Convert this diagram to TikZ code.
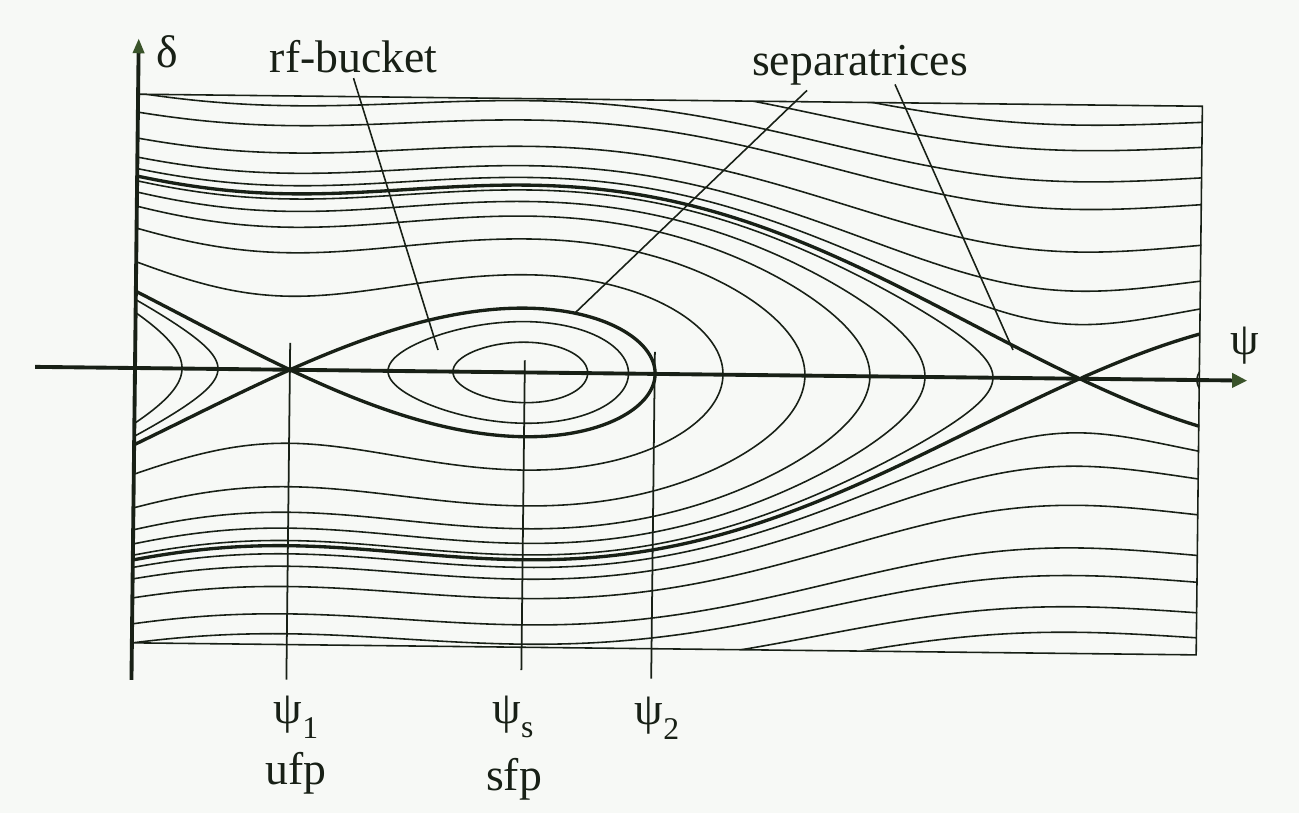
\documentclass[tikz,border=0pt]{standalone}
\usepackage{fontspec}
\setmainfont{Liberation Serif}
\usetikzlibrary{arrows.meta}
\definecolor{paper}{RGB}{247,249,246}
\definecolor{ink}{RGB}{24,32,22}
\definecolor{olive}{RGB}{58,84,42}
\newcommand{\lowidx}[1]{\raisebox{-0.32em}{\fontsize{9}{9}\selectfont #1}}

\begin{document}
\begin{tikzpicture}[font=\fontsize{13}{15}\selectfont,
    declare function={Vpot(\w)=cos(deg(0.636+\w))+0.594*\w;}]
	\tikzset{orbit/.style={draw=ink, line width=0.45pt},
		sepx/.style={draw=ink, line width=0.95pt},
		axisline/.style={draw=ink, line width=1.1pt},
		tickline/.style={draw=ink, line width=0.5pt},
		leader/.style={draw=ink, line width=0.45pt},
		lbl/.style={text=ink, inner sep=0.05cm}}
	\fill[paper] (0,0) rectangle (12.99,8.13);
	\useasboundingbox (0,0) rectangle (12.99,8.13);
	% frame, axes and phase space (the scan is turned a little)
	\begin{scope}[shift={(1.35,4.45)}, rotate=-0.65, x=0.01cm, y=0.01cm]
		\draw[orbit] (0,-275) rectangle (1065,274);
		\coordinate (hstart) at (-100,0);
		\coordinate (htip) at (1113,0);
		\coordinate (vstart) at (0,-312);
		\coordinate (vtip) at (0,330);
		\draw[axisline, -{Triangle[length=0.15cm, width=0.14cm, color=olive]}] (hstart) -- (htip);
		\draw[axisline, -{Triangle[length=0.15cm, width=0.11cm, color=olive]}] (vstart) -- (vtip);
		% marks at ufp, sfp and psi2
		\draw[tickline] (155,27) -- (155,-310);
		\draw[tickline] (390,12) -- (390,-298);
		\draw[tickline] (520,22) -- (520,-305);
		\begin{scope}[xshift=1.55cm, x=1.257cm, y=0.644cm]
			\clip (-1.2331,-4.2547) rectangle (7.2395,4.2547);
			% open orbits
			\foreach \h in {4.89,5.46,6.47,7.99,9.21,10.81,12.29} {
				\draw[orbit] plot[domain=-1.2331:7.2395, samples=160, smooth] (\x,{sqrt(2*(\h-Vpot(\x)))});
				\draw[orbit] plot[domain=-1.2331:7.2395, samples=160, smooth] (\x,{-sqrt(2*(\h-Vpot(\x)))});
			}
			% orbits that turn back
			\foreach \wt in {3.445,4.097,4.614,5.052,5.593,-0.573,-0.859} {
				\draw[orbit] plot[domain=-1:1, samples=161, smooth, variable=\t]
					({\wt-(\wt+1.2331)*(\t)*(\t)}, {(\t<0?-1:1)*sqrt(max(0,2*(Vpot(\wt)-Vpot(\wt-(\wt+1.2331)*(\t)*(\t)))))});
			}
			% orbits inside the buckets
			\foreach \wa/\wb in {1.2967/2.3675, 0.780/2.6935, 7.216/8.893} {
				\draw[orbit] plot[domain=0:360, samples=145, smooth, variable=\q]
					({(\wa+\wb)/2-(\wb-\wa)/2*cos(\q)}, {(\q<180?1:-1)*sqrt(max(0,2*(Vpot(\wa)-Vpot((\wa+\wb)/2-(\wb-\wa)/2*cos(\q)))))}) -- cycle;
			}
			% separatrices
			\draw[sepx] plot[domain=0:360, samples=181, smooth, variable=\q]
				({1.45265-1.45265*cos(\q)}, {(\q<180?1:-1)*sqrt(max(0,2*(Vpot(0)-Vpot(1.45265-1.45265*cos(\q)))))}) -- cycle;
			\draw[sepx] plot[domain=-1:1, samples=121, smooth, variable=\t]
				({-1.2331*(\t)*(\t)}, {(\t<0?-1:1)*sqrt(max(0,2*(Vpot(0)-Vpot(-1.2331*(\t)*(\t)))))});
			\draw[sepx] plot[domain=-1:1, samples=241, smooth, variable=\t]
				({6.2832-7.5163*(\t)*(\t)}, {(\t<0?-1:1)*sqrt(max(0,2*(Vpot(6.2832)-Vpot(6.2832-7.5163*(\t)*(\t)))))});
			\draw[sepx] plot[domain=-1:1, samples=61, smooth, variable=\t]
				({6.2832+0.9563*(\t)*(\t)}, {(\t<0?-1:1)*sqrt(max(0,2*(Vpot(6.2832)-Vpot(6.2832+0.9563*(\t)*(\t)))))});
		\end{scope}
	\end{scope}
	% labels
	\node[lbl, anchor=base] (deltalbl) at (1.67,7.46) {δ};
	\node[lbl, anchor=base] (rfb) at (3.535,7.41) {rf-bucket};
	\node[lbl, anchor=base] (sepl) at (8.60,7.38) {separatrices};
	\node[lbl] (psilbl) at (12.45,4.67) {ψ};
	\node[lbl] (psione) at (2.96,0.96) {ψ\lowidx{1}};
	\node[lbl, anchor=base] (ufplbl) at (2.96,0.29) {ufp};
	\node[lbl] (psis) at (5.13,0.96) {ψ\lowidx{s}};
	\node[lbl, anchor=base] (sfplbl) at (5.14,0.23) {sfp};
	\node[lbl] (psitwo) at (6.57,0.95) {ψ\lowidx{2}};
	% leaders
	\coordinate (inbucket) at (4.38,4.63);
	\coordinate (buckettop) at (5.75,5.00);
	\coordinate (septwo) at (10.13,4.63);
	\draw[leader] (rfb.south) -- (inbucket);
	\draw[leader] ([xshift=-0.53cm]sepl.south) -- (buckettop);
	\draw[leader] ([xshift=0.35cm, yshift=0.06cm]sepl.south) -- (septwo);
\end{tikzpicture}
\end{document}
